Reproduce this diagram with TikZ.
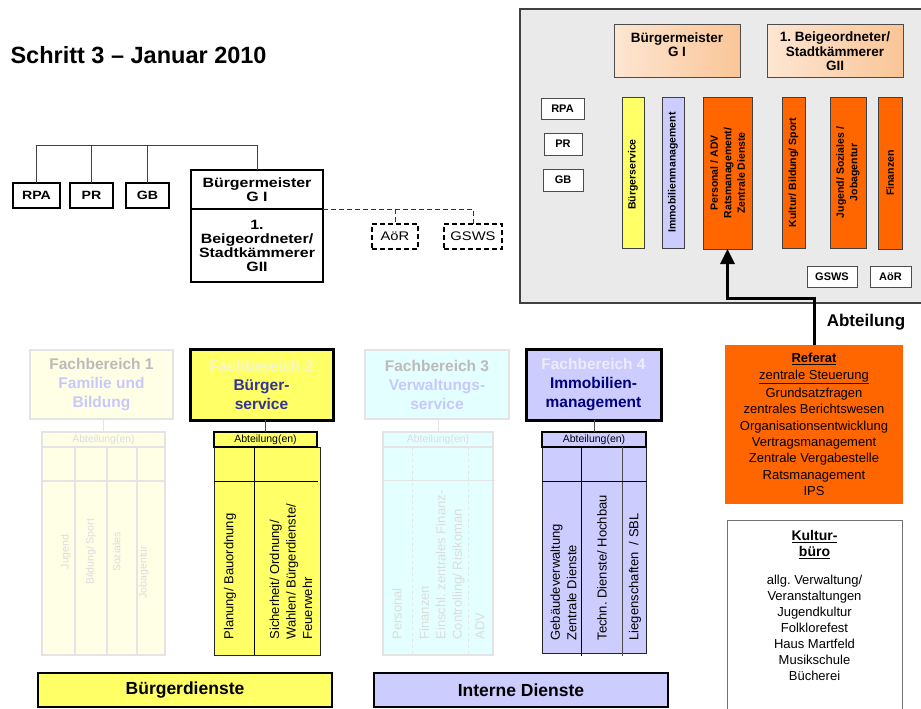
\documentclass[tikz,border=0pt]{standalone}
\usepackage{fontspec}
\setmainfont{Liberation Sans}
\newfontfamily\stretchfont[FakeStretch=1.18]{Liberation Sans}
\usetikzlibrary{arrows.meta}
\frenchspacing
\definecolor{ylw}{HTML}{FFFF66}
\definecolor{lav}{HTML}{CCCCFF}
\definecolor{org}{HTML}{FF6600}
\definecolor{panelgray}{HTML}{EAEAEA}
\definecolor{peachA}{HTML}{FDE6D2}
\definecolor{peachB}{HTML}{FAC597}
\definecolor{fadeyl}{HTML}{FFFFE6}
\definecolor{fadecy}{HTML}{E4FFFF}
\definecolor{fadeln}{HTML}{E4E4E4}
\definecolor{fadetx}{HTML}{BBBBBB}
\definecolor{fadebl}{HTML}{C8C8FF}
\definecolor{fadefb}{HTML}{DCDCDC}
\definecolor{fbtwo}{HTML}{F6F6C8}
\definecolor{fbfour}{HTML}{ECECFA}
\definecolor{blueA}{HTML}{333399}
\definecolor{blueB}{HTML}{000080}
\newcommand{\fsz}[2]{\fontsize{#1}{#2}\selectfont}
\begin{document}
\frenchspacing
\begin{tikzpicture}[x=1pt,y=-1pt,
  box/.style={draw, inner sep=0pt, outer sep=0pt},
  orgbox/.style={box, line width=1.2pt, fill=white, align=center, font=\stretchfont\bfseries\fsz{13.5}{14}},
  dashbox/.style={box, line width=1.2pt, dash pattern=on 5pt off 3pt, fill=white, font=\stretchfont\fsz{12.5}{14}},
  dashline/.style={line width=1pt, dash pattern=on 5pt off 3pt, draw=black!80},
  orgline/.style={line width=1pt, draw=black!75},
  peach/.style={box, draw=black!70, line width=1pt, left color=peachA, right color=peachB},
  smallbox/.style={box, draw=black!70, line width=1pt, fill=white, font=\bfseries\fsz{11}{13}},
  vbox/.style={box, draw=black!75, line width=1pt},
  vtext/.style={rotate=90, align=center, font=\bfseries\fsz{10.5}{13.5}},
  fbhead/.style={box, align=center, font=\bfseries\fsz{15.5}{19}},
  abt/.style={box, font=\fsz{10.5}{12}},
  rottext/.style={rotate=90, anchor=west, align=left, font=\fsz{13}{16.5}},
  fadetext/.style={rotate=90, font=\fsz{10.5}{12}, text=fadefb},
  bar/.style={box, line width=2pt, font=\bfseries\fsz{17.5}{20}}
]
\clip (0,0) rectangle (921,709);
\fill[white] (0,0) rectangle (921,709);

% title
\node[anchor=west, font=\bfseries\fsz{23.5}{26}] (title) at (7,55) {Schritt 3 \textendash{} Januar 2010};

% left org chart
\node[orgbox, font=\stretchfont\bfseries\fsz{12}{14}, minimum width=47, minimum height=25] (rpa) at (36.5,195.5) {RPA};
\node[orgbox, font=\stretchfont\bfseries\fsz{12}{14}, minimum width=43, minimum height=25] (pr) at (91.5,195.5) {PR};
\node[orgbox, font=\stretchfont\bfseries\fsz{12}{14}, minimum width=43, minimum height=25] (gb) at (147.5,195.5) {GB};
\node[orgbox, minimum width=132, minimum height=39] (bmA) at (257,189.5) {Bürgermeister\\G I};
\node[orgbox, minimum width=132, minimum height=73] (bmB) at (257,245.5) {1.\\Beigeordneter/\\Stadtkämmerer\\GII};
\node[dashbox, minimum width=46, minimum height=25] (aor) at (395,236.5) {AöR};
\node[dashbox, minimum width=58, minimum height=25] (gsws) at (473,236.5) {GSWS};
\draw[orgline] (rpa.north) -- (rpa.north |- 0,145) -| (bmA.north);
\draw[orgline] (pr.north) -- (pr.north |- 0,145);
\draw[orgline] (gb.north) -- (gb.north |- 0,145);
\draw[dashline] (bmA.south east) -| (aor.north);
\draw[dashline] (bmA.south east) -| (gsws.north);

% top right panel
\node[box, draw=black!75, line width=1.2pt, fill=panelgray, minimum width=415, minimum height=294] (panel) at (727.5,156) {};
\node[peach, minimum width=126, minimum height=53] (pbm) at (677,51.5) {};
\node[font=\bfseries\fsz{13.5}{14.5}, align=center] (pbmtxt) at (677,44.5) {Bürgermeister\\G I};
\node[peach, minimum width=136, minimum height=53, align=center, font=\bfseries\fsz{13.5}{14.5}] (pbg) at (835,51.5) {1. Beigeordneter/\\Stadtkämmerer\\GII};
\node[smallbox, minimum width=43, minimum height=21] (prpa) at (562.5,108.5) {RPA};
\node[smallbox, minimum width=38, minimum height=22] (ppr) at (563,144) {PR};
\node[smallbox, minimum width=40, minimum height=22] (pgb) at (563,180) {GB};
\node[vbox, fill=ylw, minimum width=22, minimum height=151] (vbs) at (633,172.5) {};
\node[vbox, fill=lav, minimum width=22, minimum height=151] (vim) at (673,172.5) {};
\node[vbox, fill=org, minimum width=49, minimum height=152] (vpers) at (727.5,173) {};
\node[vbox, fill=org, minimum width=23, minimum height=151] (vkult) at (793.5,172.5) {};
\node[vbox, fill=org, minimum width=36, minimum height=151] (vjug) at (848,172.5) {};
\node[vbox, fill=org, minimum width=24, minimum height=152] (vfin) at (890,173) {};
\node[vtext] (tbs) at ([yshift=-2pt]vbs.center) {Bürgerservice};
\node[vtext] (tim) at (vim.center) {Immobilienmanagement};
\node[vtext] (tpers) at (vpers.center) {Personal / ADV\\Ratsmanagement/\\Zentrale Dienste};
\node[vtext] (tkult) at (vkult.center) {Kultur/ Bildung/ Sport};
\node[vtext] (tjug) at (vjug.center) {Jugend/ Soziales /\\Jobagentur};
\node[vtext] (tfin) at (vfin.center) {Finanzen};
\node[smallbox, minimum width=50, minimum height=21] (pgsws) at (832,276.5) {GSWS};
\node[smallbox, minimum width=41, minimum height=21] (paor) at (890.5,276.5) {AöR};

% Referat
\node[box, draw=none, fill=org, minimum width=178, minimum height=159, align=center, font=\fsz{13}{16.3}] (ref) at (814,424.5)
 {\textbf{\underline{Referat}}\\\underline{zentrale Steuerung}\\[2pt]Grundsatzfragen\\zentrales Berichtswesen\\Organisationsentwicklung\\Vertragsmanagement\\Zentrale Vergabestelle\\Ratsmanagement\\IPS};
\draw[line width=3pt, -{Triangle[width=14pt,length=15pt]}] (ref.north) -- (ref.north |- 0,298) -| (vpers.south);
\node[font=\bfseries\fsz{17}{20}] (abtlabel) at (866,322) {Abteilung};

% Kulturbuero
\node[box, draw=black!55, line width=1pt, fill=white, minimum width=175, minimum height=200, anchor=north] (kb) at (814.5,520) {};
\node[anchor=north, align=center, font=\fsz{13}{16}] (kbtxt) at (814.5,527)
 {{\bfseries\fsz{14}{16}\underline{Kultur-}}\\{\bfseries\fsz{14}{16}\underline{büro}}\\[12pt]allg.\ Verwaltung/\\Veranstaltungen\\Jugendkultur\\Folklorefest\\Haus Martfeld\\Musikschule\\Bücherei};

% Fachbereich 1 (faded)
\node[fbhead, fill=fadeyl, draw=fadeln, line width=2pt, minimum width=143, minimum height=69] (fb1) at (101.5,384.5)
 {\textcolor{fadetx}{Fachbereich 1}\\\textcolor{fadebl}{Familie und}\\\textcolor{fadebl}{Bildung}};
\node[abt, fill=fadeyl, draw=fadeln, line width=2pt, text=fadefb, minimum width=123, minimum height=15] (ab1) at (103.5,439.5) {Abteilung(en)};
\node[box, fill=fadeyl, draw=fadeln, line width=2pt, minimum width=123, minimum height=208] (t1) at (103.5,551) {};
\draw[fadeln, line width=1pt] (ab1.north) -- (ab1.north |- fb1.south);
\draw[fadeln, line width=2pt] (t1.north -| 75,0) -- (t1.south -| 75,0);
\draw[fadeln, line width=2pt] (t1.north -| 107,0) -- (t1.south -| 107,0);
\draw[fadeln, line width=2pt] (t1.north -| 137,0) -- (t1.south -| 137,0);
\draw[fadeln, line width=2pt] (t1.west |- 0,481) -- (t1.east |- 0,481);
\node[fadetext] (t1a) at (66,552) {Jugend};
\node[fadetext] (t1b) at (91,552) {Bildung/ Sport};
\node[fadetext] (t1c) at (116.5,552) {Soziales};
\node[fadetext] (t1d) at (144,572) {Jobagentur};

% Fachbereich 2
\node[fbhead, fill=ylw, draw=black, line width=3pt, minimum width=143, minimum height=71] (fb2) at (261.5,384.5)
 {\textcolor{fbtwo}{Fachbereich 2}\\\textcolor{blueA}{Bürger-}\\\textcolor{blueA}{service}};
\node[box, fill=ylw, draw=black!85, line width=1pt, minimum width=106, minimum height=208] (t2) at (267,551) {};
\node[abt, fill=ylw, draw=black, line width=2pt, minimum width=103, minimum height=15] (ab2) at (265.5,439.5) {Abteilung(en)};
\draw[black!70, line width=1pt] (ab2.north) -- (ab2.north |- fb2.south);
\draw[black, line width=1pt] (t2.north -| 254,0) -- (t2.south -| 254,0);
\draw[black, line width=1pt] (t2.west |- 0,481) -- (318,481);
\node[rottext] (t2a) at (230,643) {Planung/ Bauordnung};
\node[rottext] (t2b) at (291,643) {Sicherheit/ Ordnung/\\Wahlen/ Bürgerdienste/\\Feuerwehr};

% Fachbereich 3 (faded)
\node[fbhead, fill=fadecy, draw=fadeln, line width=2pt, minimum width=144, minimum height=69] (fb3) at (437,384.5)
 {\textcolor{fadetx}{Fachbereich 3}\\\textcolor{fadebl}{Verwaltungs-}\\\textcolor{fadebl}{service}};
\node[abt, fill=fadecy, draw=fadeln, line width=2pt, text=fadefb, minimum width=110, minimum height=15] (ab3) at (438,439.5) {Abteilung(en)};
\node[box, fill=fadecy, draw=fadeln, line width=1.5pt, minimum width=110, minimum height=208] (t3) at (438,551) {};
\draw[fadeln, line width=1pt] (ab3.north) -- (ab3.north |- fb3.south);
\draw[fadeln, line width=1pt, dashed] (t3.north -| 412,0) -- (t3.south -| 412,0);
\draw[fadeln, line width=1pt, dashed] (t3.north -| 468,0) -- (t3.south -| 468,0);
\draw[fadeln, line width=1pt] (t3.west |- 0,480) -- (495,480);
\node[rottext, text=fadefb] (t3a) at (397,643) {Personal};
\node[rottext, text=fadefb] (t3b) at (442,643) {Finanzen\\Einschl.\ zentrales Finanz-\\Controlling/ Risikoman};
\node[rottext, text=fadefb] (t3c) at (480,643) {ADV};

% Fachbereich 4
\node[fbhead, fill=lav, draw=black, line width=3pt, minimum width=135, minimum height=71] (fb4) at (593.5,384.5)
 {\textcolor{fbfour}{Fachbereich 4}\\\textcolor{blueB}{Immobilien-}\\\textcolor{blueB}{management}};
\node[box, fill=lav, draw=black!85, line width=1pt, minimum width=104, minimum height=206] (t4) at (594,550) {};
\node[abt, fill=lav, draw=black, line width=2pt, minimum width=104, minimum height=15] (ab4) at (594,439.5) {Abteilung(en)};
\draw[black!70, line width=1pt] (ab4.north) -- (ab4.north |- fb4.south);
\draw[black, line width=1pt] (t4.north -| 581,0) -- (581,656);
\draw[black!70, line width=1pt] (t4.north -| 622,0) -- (622,656);
\draw[black, line width=1pt] (t4.west |- 0,481) -- (t4.east |- 0,481);
\node[rottext] (t4a) at (563.5,644) {Gebäudeverwaltung\\Zentrale Dienste};
\node[rottext] (t4b) at (602,644) {Techn.\ Dienste/ Hochbau};
\node[rottext] (t4c) at (635,644) {Liegenschaften\ \ / SBL};

% bottom bars
\node[bar, fill=ylw, minimum width=294, minimum height=34] (bd) at (185,690) {Bürgerdienste};
\node[bar, fill=lav, minimum width=294, minimum height=34] (id) at (521,690) {Interne Dienste};
\end{tikzpicture}
\end{document}
